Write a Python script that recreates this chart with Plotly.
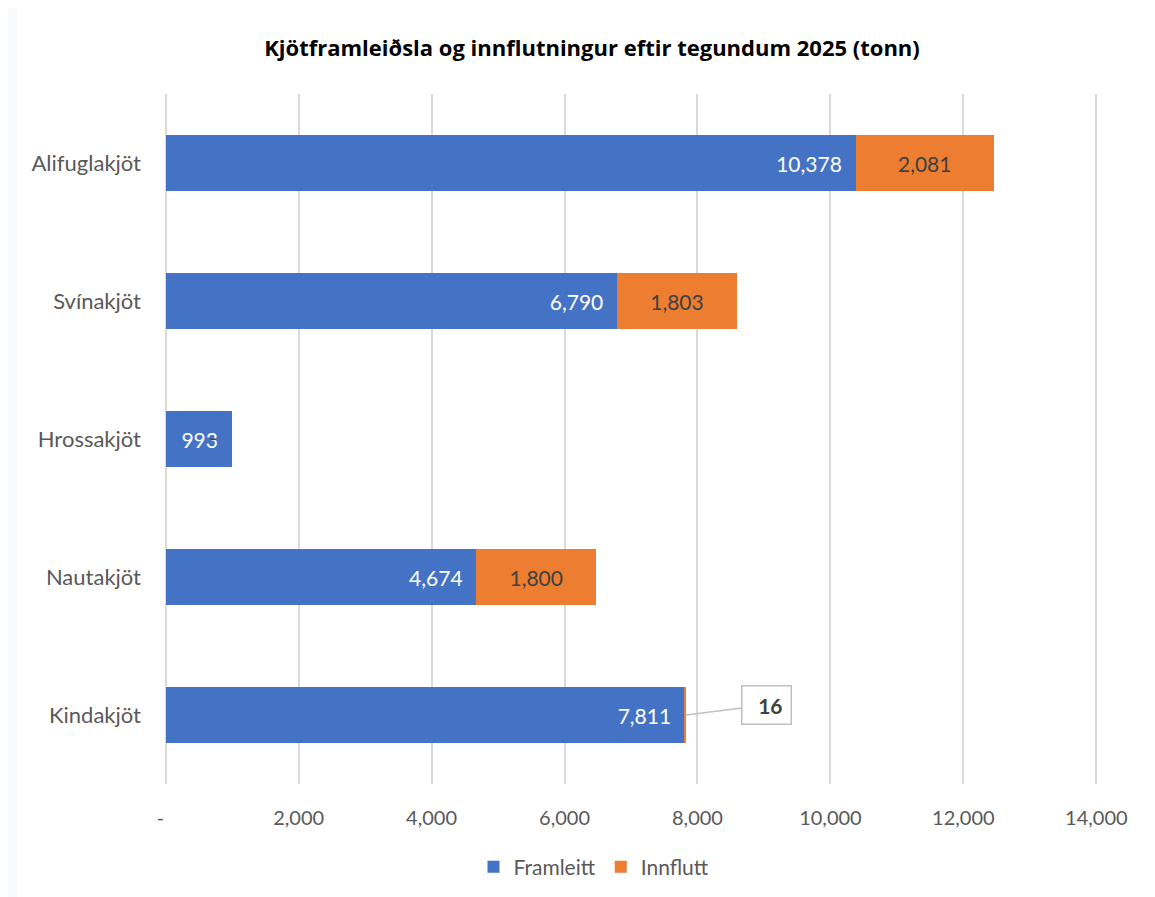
import plotly.graph_objects as go

categories = ["Alifuglakjöt", "Svínakjöt", "Hrossakjöt", "Nautakjöt", "Kindakjöt"]
framleitt = [10378, 6790, 993, 4674, 7811]
innflutt = [2081, 1803, 0, 1800, 16]
tick_values = [0, 2000, 4000, 6000, 8000, 10000, 12000, 14000]
tick_labels = ["-\u00a0\u00a0", "2,000", "4,000", "6,000", "8,000", "10,000", "12,000", "14,000"]
title_text = "Kjötframleiðsla og innflutningur eftir tegundum 2025 (tonn)"

BLUE = "#4472C4"
ORANGE = "#ED7D31"
FONT = "Lato"
PAD = "\u00a0\u00a0"

def fmt(v):
    return "-" if v == 0 else f"{v:,}"

# small values get callouts instead of inside labels
small = [v < 200 for v in innflutt]
innflutt_text = ["" if s else fmt(v) for v, s in zip(innflutt, small)]

fig = go.Figure()
fig.add_trace(go.Bar(
    name="Framleitt", y=categories, x=framleitt, orientation="h",
    marker=dict(color=BLUE, line=dict(width=0)),
    text=[fmt(v) + PAD for v in framleitt], textposition="inside", insidetextanchor="end",
    textfont=dict(family=FONT, size=21, color="white"),
    textangle=0,
))
fig.add_trace(go.Bar(
    name="Innflutt", y=categories, x=innflutt, orientation="h",
    marker=dict(color=ORANGE, line=dict(width=0)),
    text=innflutt_text, textposition="inside", insidetextanchor="middle",
    textfont=dict(family=FONT, size=21, color="#404040"),
    textangle=0,
))

annotations = []
for cat, f, i, s in zip(categories, framleitt, innflutt, small):
    if not s:
        continue
    if i == 0:
        annotations.append(dict(x=f, y=cat, xref="x", yref="y", text="-", showarrow=False,
                                xshift=-19, yshift=2,
                                font=dict(family=FONT, size=21, color="#404040"), xanchor="center"))
    else:
        annotations.append(dict(x=f + i, y=cat, xref="x", yref="y", text=f"<b>{i}</b>",
                                showarrow=True, arrowhead=0, arrowwidth=1.5, arrowcolor="#BFBFBF",
                                ax=81, ay=-10, axref="pixel", ayref="pixel",
                                bordercolor="#BFBFBF", borderwidth=1.5, borderpad=8, bgcolor="white",
                                width=32, height=21, align="right",
                                font=dict(family=FONT, size=21, color="#404040")))

fig.update_layout(
    width=1147, height=889,
    barmode="stack", bargap=0.595,
    paper_bgcolor="#F7F9FB", plot_bgcolor="white",
    margin=dict(l=156, r=57, t=86, b=113),
    font=dict(family=FONT, color="#595959"),
    title=dict(text=f"<b>{title_text}</b>", x=584 / 1147, xref="container", xanchor="center",
               y=1 - 40 / 889, yref="container", yanchor="middle",
               font=dict(family="Open Sans", size=22, color="#000000")),
    xaxis=dict(range=[-25, 14025], tickvals=tick_values, ticktext=tick_labels,
               showgrid=True, gridcolor="#D9D9D9", gridwidth=1.5, zeroline=False,
               showline=False, ticks="", ticklabelstandoff=20,
               tickfont=dict(family=FONT, size=20, color="#595959")),
    yaxis=dict(categoryorder="array", categoryarray=categories[::-1],
               showgrid=False, zeroline=False, showline=False, ticks="",
               ticklabelstandoff=22, tickfont=dict(family=FONT, size=22, color="#595959")),
    legend=dict(orientation="h", x=586 / 1147, xref="container", xanchor="center",
                y=1 - 859 / 889, yref="container", yanchor="middle",
                font=dict(family=FONT, size=21, color="#595959"),
                itemwidth=30, traceorder="normal", bgcolor="rgba(0,0,0,0)"),
    annotations=annotations,
    shapes=[dict(type="rect", xref="paper", yref="paper", layer="below",
                 x0=(10 - 156) / 934, x1=(1160 - 156) / 934,
                 y0=(776 - 900) / 690, y1=(776 - 0) / 690,
                 fillcolor="white", line=dict(width=0))],
)

fig.write_html("out.html")
